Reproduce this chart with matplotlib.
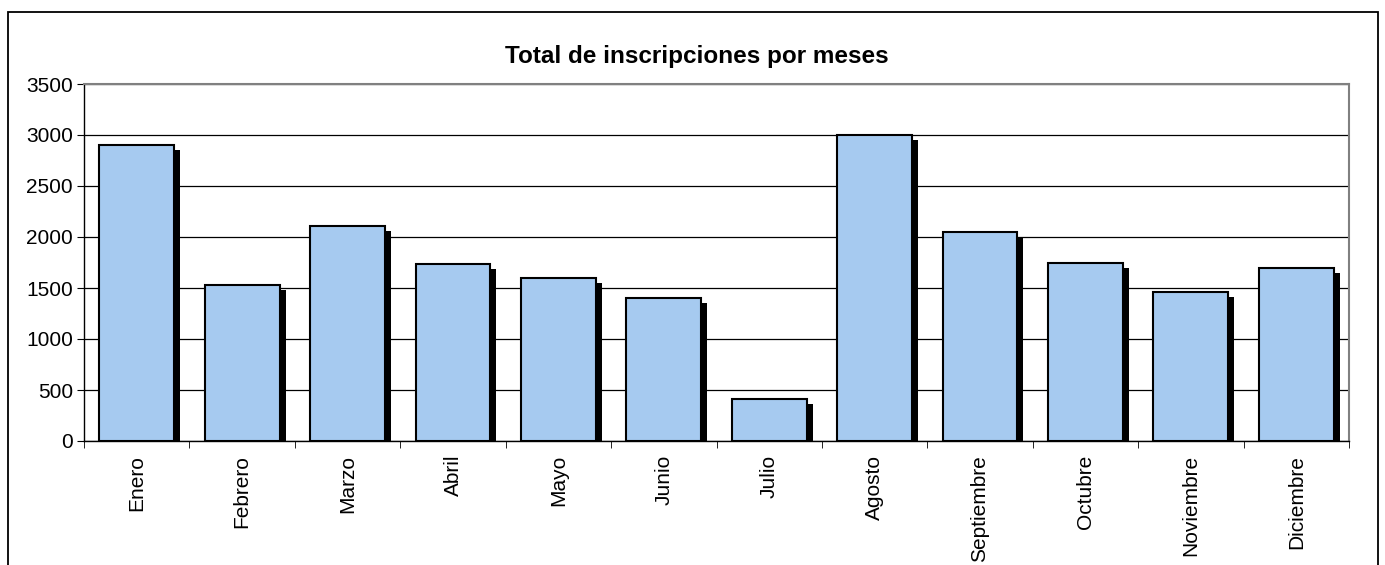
import matplotlib
matplotlib.use('Agg')
import matplotlib.pyplot as plt
import matplotlib.patheffects as pe
from matplotlib.patches import Rectangle
import numpy as np

meses = ['Enero', 'Febrero', 'Marzo', 'Abril', 'Mayo', 'Junio', 'Julio',
         'Agosto', 'Septiembre', 'Octubre', 'Noviembre', 'Diciembre']
inscripciones = [2900, 1525, 2110, 1735, 1600, 1400, 410,
                 3000, 2050, 1745, 1460, 1695]
titulo = 'Total de inscripciones por meses'

plt.rcParams['font.family'] = ['Liberation Sans', 'DejaVu Sans']

fig = plt.figure(figsize=(13.85, 5.65), dpi=100)
ax = fig.add_axes([84 / 1385, 1 - 441 / 565, (1349 - 84) / 1385, (441 - 84) / 565])

# marco exterior del grafico
fig.patches.append(Rectangle((8 / 1385, -0.1), (1378 - 8) / 1385, 1.1 - 12 / 565,
                             transform=fig.transFigure, fill=False,
                             edgecolor='black', linewidth=1.3))

x = np.arange(len(meses))
bars = ax.bar(x, inscripciones, width=0.71, color='#A6CAF0',
              edgecolor='black', linewidth=1.5, zorder=3)
for b in bars:
    b.set_path_effects([pe.SimplePatchShadow(offset=(4.3, -3.6), shadow_rgbFace='black', alpha=1.0),
                        pe.Normal()])

ax.set_xlim(-0.5, len(meses) - 0.5)
ax.set_ylim(0, 3500)
ax.set_yticks(np.arange(0, 3501, 500))
ax.yaxis.grid(True, color='black', linewidth=0.9, zorder=0)
ax.set_axisbelow(True)

ax.set_xticks(x)
ax.set_xticklabels(meses, rotation=90, fontsize=15)
ax.set_xticks(np.arange(-0.5, len(meses), 1), minor=True)
ax.tick_params(axis='x', which='major', length=0, pad=10)
ax.tick_params(axis='x', which='minor', length=5, direction='out', color='black')
ax.tick_params(axis='y', labelsize=15, length=5, direction='out', pad=3)

for s in ['top', 'right']:
    ax.spines[s].set_color('#808080')
    ax.spines[s].set_linewidth(1.5)
for s in ['left', 'bottom']:
    ax.spines[s].set_color('black')
    ax.spines[s].set_linewidth(1.0)

fig.text(0.503, 1 - 56 / 565, titulo, ha='center', va='center',
         fontsize=17.5, fontweight='bold')

fig.savefig('out.png', dpi=100)
